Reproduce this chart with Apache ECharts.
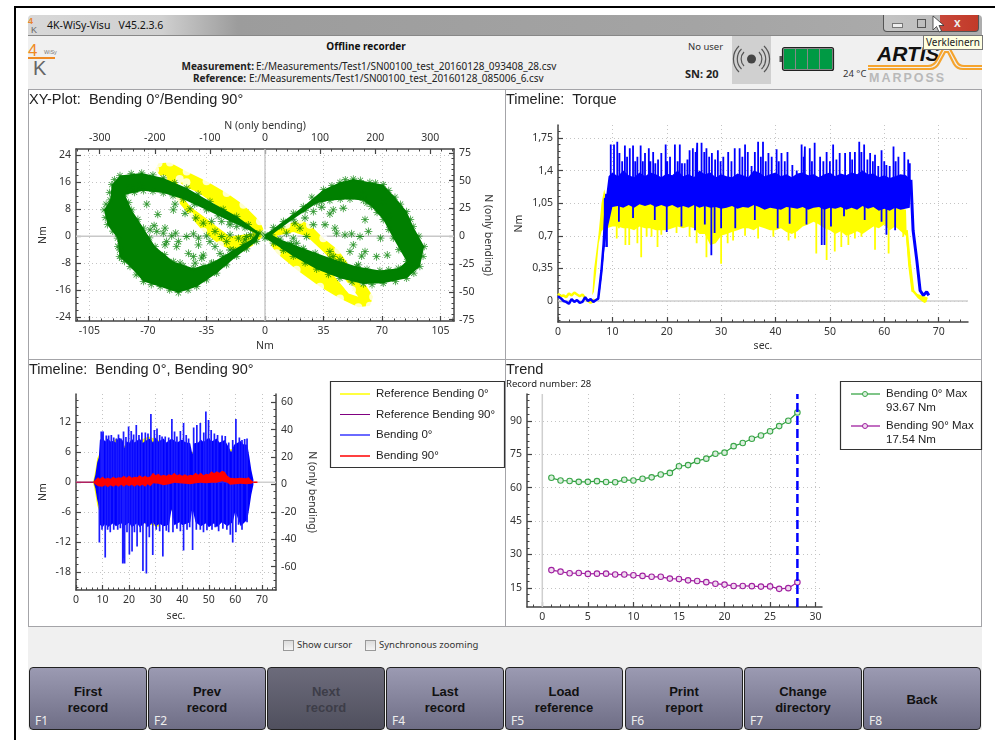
<!DOCTYPE html>
<html><head><meta charset="utf-8"><title>4K-WiSy-Visu</title>
<script src="https://cdn.jsdelivr.net/npm/echarts@6/dist/echarts.min.js"></script>
<style>
html,body{margin:0;padding:0;background:#fff;width:995px;height:740px;overflow:hidden;font-family:"Noto Sans",sans-serif;color:#222}
#chrome,#chart{position:absolute;left:0;top:0;width:995px;height:740px}
.a{position:absolute;white-space:nowrap}
.p{position:absolute;background:#fff;border:1px solid #a4a4a8;box-sizing:border-box}
.btn{position:absolute;top:667px;height:63px;width:118px;border:1px solid #222;border-radius:4px;box-sizing:border-box;background:linear-gradient(#9b9ab2,#6f6e86);font:bold 13px "Liberation Sans",sans-serif;color:#111;text-align:center;line-height:16px}
.btn.off{background:linear-gradient(#6c6b7b,#50505e);color:#3d3d48}
.btn span{position:absolute;left:0;right:0}
.btn i{position:absolute;left:5px;bottom:2px;font:normal 12px "Noto Sans",sans-serif;color:#eee;line-height:13px}
.cb{position:absolute;top:640px;width:9px;height:9px;border:1px solid #999;background:linear-gradient(#ddd,#f4f4f4)}
</style></head><body>
<div id="chrome">
 <div class="a" style="left:14px;top:6px;width:981px;height:2px;background:#000"></div>
 <div class="a" style="left:14px;top:6px;width:2px;height:734px;background:#000"></div>
 <div class="a" style="left:28px;top:15px;width:954px;height:20px;background:linear-gradient(90deg,#d8d8d8,#d0d0d0 14%,#9c9c9c 22%,#a4a4a4 70%,#adadad);border-radius:4px 4px 0 0"></div>
 <div class="a" style="left:28px;top:35px;width:954px;height:695px;background:#f0f0f0;border-top:1px solid #888;box-sizing:border-box"></div>
 <div class="a" style="left:47px;top:18px;font-size:10.5px;line-height:15px;color:#111">4K-WiSy-Visu&nbsp;&nbsp; V45.2.3.6</div>
 <div class="a" style="left:28px;top:16px;font:bold 9px 'Liberation Sans';color:#e8842c;line-height:10px">4</div>
 <div class="a" style="left:31px;top:25px;font:9px 'Liberation Sans';color:#666;line-height:10px">K</div>
 <div class="a" style="left:28px;top:42px;font:17px 'Liberation Sans';color:#ef8a24;line-height:18px">4</div>
 <div class="a" style="left:28px;top:57px;width:27px;height:1.5px;background:#ef8a24"></div>
 <div class="a" style="left:33px;top:58px;font:20px 'Liberation Sans';color:#666;line-height:20px">K</div>
 <div class="a" style="left:44px;top:49px;font:5.5px 'Liberation Sans';color:#777;line-height:6px">WiSy</div>
 <div class="a" style="left:266px;width:200px;top:39px;text-align:center;font-weight:bold;font-size:10px;line-height:14px;color:#111">Offline recorder</div>
 <div class="a" style="right:741px;top:59px;font-weight:bold;font-size:10px;line-height:14px;color:#222">Measurement:</div>
 <div class="a" style="left:256px;top:59px;font-size:10px;line-height:14px;color:#222">E:/Measurements/Test1/SN00100_test_20160128_093408_28.csv</div>
 <div class="a" style="right:749px;top:71px;font-weight:bold;font-size:10px;line-height:14px;color:#222">Reference:</div>
 <div class="a" style="left:249px;top:71px;font-size:10px;line-height:14px;color:#222">E:/Measurements/Test1/SN00100_test_20160128_085006_6.csv</div>
 <div class="a" style="left:688px;top:40px;font-size:9.5px;line-height:14px;color:#333">No user</div>
 <div class="a" style="left:685px;top:67px;font-weight:bold;font-size:11px;line-height:14px;color:#222">SN: 20</div>
 <div class="a" style="left:843px;top:67px;font-size:9.5px;line-height:14px;color:#333">24 °C</div>
 <div class="a" style="left:732px;top:36px;width:39px;height:48px;background:#d0d0d0"></div>
 <svg class="a" style="left:732px;top:36px" width="39" height="48" viewBox="0 0 39 48"><circle cx="19.5" cy="23" r="4.5" fill="#444"/><g fill="none" stroke="#555" stroke-width="1.2"><path d="M12 16a10 10 0 0 0 0 14M27 16a10 10 0 0 1 0 14M9.5 13a14 14 0 0 0 0 20M29.5 13a14 14 0 0 1 0 20M7 10a18 18 0 0 0 0 26M32 10a18 18 0 0 1 0 26"/></g></svg>
 <svg class="a" style="left:779px;top:46px" width="56" height="26" viewBox="0 0 56 26"><rect x="0.5" y="10" width="3" height="6" fill="#555"/><rect x="3.5" y="1.5" width="51" height="23" rx="2" fill="#888" stroke="#222" stroke-width="1.2"/><g fill="#009a44"><rect x="5" y="3" width="11" height="20"/><rect x="17" y="3" width="11" height="20"/><rect x="29" y="3" width="11" height="20"/><rect x="41" y="3" width="12" height="20"/></g></svg>
 <div class="a" style="left:877px;top:42px;font:italic bold 21px 'Liberation Sans';line-height:24px;color:#111">ARTIS</div>
 <svg class="a" style="left:866px;top:46px" width="116" height="26" viewBox="0 0 116 26"><g fill="none" stroke="#f5a42e" stroke-width="2.2"><path d="M2 20H62Q68 20 71 14L77 3H84L91 16Q93 20 98 20H116"/><path d="M2 23H64Q70 23 73 17L79 6H82L88 18Q91 23 97 23H116"/></g></svg>
 <div class="a" style="left:869px;top:71px;font:bold 12.5px 'Liberation Sans';line-height:14px;color:#b9b9b9;letter-spacing:2px">MARPOSS</div>
 <div class="a" style="left:883px;top:15px;width:96px;height:17px;border:1px solid #555;border-top:0;border-radius:0 0 4px 4px;box-sizing:border-box;background:linear-gradient(90deg,#c4c4c4 0,#bcbcbc 60%,#c8473a 60%,#c23a28)"></div>
 <div class="a" style="left:892px;top:23px;width:9px;height:3px;background:#eee;border:1px solid #777"></div>
 <div class="a" style="left:917px;top:19px;width:7px;height:7px;border:1.5px solid #555"></div>
 <div class="a" style="left:954px;top:15px;font:bold 12px 'Liberation Sans';color:#eee;line-height:17px">x</div>
 <div class="a" style="left:923px;top:35px;height:13px;padding:0 2px;background:#ffffe1;border:1px solid #777;font-size:10px;line-height:13px;color:#222">Verkleinern</div>
 <svg class="a" style="left:932px;top:15px" width="14" height="20" viewBox="0 0 14 20"><path d="M1 1V15L4.5 11.5L7 17L9.5 16L7 10.5H12Z" fill="#fff" stroke="#333" stroke-width=".8"/></svg>
 <div class="p" style="left:28px;top:89px;width:478px;height:271px"></div>
 <div class="p" style="left:505px;top:89px;width:477px;height:271px"></div>
 <div class="p" style="left:28px;top:359px;width:478px;height:268px"></div>
 <div class="p" style="left:505px;top:359px;width:477px;height:268px"></div>
 <div class="cb" style="left:283px"></div>
 <div class="a" style="left:297px;top:638px;font-size:9.5px;line-height:14px;color:#333">Show cursor</div>
 <div class="cb" style="left:365px"></div>
 <div class="a" style="left:379px;top:638px;font-size:9.5px;line-height:14px;color:#333">Synchronous zooming</div>
 <div class="btn" style="left:29px"><span style="top:16px">First<br>record</span><i>F1</i></div>
 <div class="btn" style="left:148px"><span style="top:16px">Prev<br>record</span><i>F2</i></div>
 <div class="btn off" style="left:267px"><span style="top:16px">Next<br>record</span></div>
 <div class="btn" style="left:386px"><span style="top:16px">Last<br>record</span><i>F4</i></div>
 <div class="btn" style="left:505px"><span style="top:16px">Load<br>reference</span><i>F5</i></div>
 <div class="btn" style="left:625px"><span style="top:16px">Print<br>report</span><i>F6</i></div>
 <div class="btn" style="left:744px"><span style="top:16px">Change<br>directory</span><i>F7</i></div>
 <div class="btn" style="left:863px"><span style="top:24px">Back</span><i>F8</i></div>
</div>
<div id="chart"></div>
<script>
// ---------- XY plot (Nm, Nm) ----------
const greenRightOuter=[[0,0.4],[11,4.4],[22.9,8.8],[34.9,13.8],[44.8,16],[52.8,17],[62.7,16],[70.7,15.3],[77.7,11.6],[84.7,7.3],[88.6,2.9],[95.2,-3.1],[92.6,-9],[84.7,-12.5],[70.7,-14],[58.8,-14.2],[44.8,-12.5],[30.9,-9.8],[16.9,-6],[5,-2.1],[0,-0.6]];
const greenRightInner=[[4,0.4],[16.9,5.1],[30.9,9.8],[38.8,10.6],[50.8,11],[58.8,10.6],[63.7,8.8],[70.7,4.9],[76.7,-0.6],[84.7,-7.5],[79.7,-9.5],[68.7,-10.2],[54.8,-9],[38.8,-6.5],[22.9,-3.6],[9,-0.9]];
const greenLeftOuter=[[-3,0.9],[-16.9,5.9],[-32.9,10.3],[-46.8,14.3],[-60.8,17.3],[-73.7,18.8],[-86.7,18],[-91.6,15.3],[-92.6,10.8],[-96.2,7.8],[-94.2,3.4],[-88.2,-0.6],[-87,-6],[-80.7,-9],[-72.7,-13.5],[-62.7,-15],[-51.8,-16.8],[-40.8,-15],[-28.9,-11],[-16.9,-6],[-5,-1.6]];
const greenLeftInner=[[-5,0.7],[-20.9,4.4],[-34.9,7.8],[-48.8,11],[-60.8,12.8],[-72.7,13.5],[-83.7,12.3],[-79.7,7.8],[-72.7,2.4],[-65.7,-3.1],[-54.8,-7.5],[-42.8,-9.5],[-31.9,-8],[-18.9,-4.1],[-7,-0.6]];
const greenEdgeExtra=[[5,2.6],[17,6.8],[28,11.6],[40,15],[48,16.8],[57,16.6],[66,15.8],[74,13.6],[81,9.5],[87,5],[92,0],[94.5,-6],[89,-11],[78,-13.5],[64,-14.4],[52,-13.6],[38,-11.4],[24,-8],[11,-4.2],
[10,2.8],[24,7.6],[34,10.3],[45,11],[61,9.8],[67,7],[74,2],[80,-4],[74,-10],[61,-9.8],[47,-8],[30,-5],[15,-2.2],
[-10,3.4],[-25,8],[-40,12.5],[-54,15.9],[-67,18.2],[-80,18.6],[-90,16.8],[-93,13],[-95,9.5],[-95.5,5.5],[-91,1.5],[-88,-3],[-84,-7.5],[-77,-11.5],[-68,-14.4],[-57,-16],[-46,-16],[-35,-13],[-23,-8.5],[-11,-3.8],
[-12,2.5],[-28,6],[-42,9.5],[-55,12],[-67,13.3],[-78,13],[-81.5,10],[-76,5],[-69,-0.5],[-60,-5.5],[-49,-8.8],[-37,-9],[-25,-6],[-13,-2.4]];
const yellowLeftOuter=[[0,0.9],[-3,4.4],[-12.9,9.3],[-22.9,12.8],[-34.9,16.3],[-46.8,19.2],[-56.8,21.9],[-63.7,21.7],[-65.7,19.7],[-60.8,17],[-52.8,10.8],[-44.8,5.9],[-36.9,1.4],[-26.9,-2.6],[-14.9,-5.1],[-5,-2.1]];
const yellowLeftInner=[[-7,0.9],[-20,6],[-40,13],[-47,14.5],[-53,16.6],[-50,12],[-44.8,8.8],[-36.9,5.9],[-28.9,2.9],[-20.9,-0.1]];
const yellowRightOuter=[[2,0.4],[12.9,3.4],[20.9,4.9],[26.9,3.4],[34.9,-0.6],[43.8,-4.1],[50.8,-9],[58.8,-13.5],[64.7,-18],[62.7,-20.7],[55.8,-21.1],[44.8,-18.5],[32.9,-15],[18.9,-10],[7,-5.1],[2,-1.6]];
const yellowRightInner=[[7,0.1],[17,1.2],[24.9,0],[34.9,-4.6],[43,-9],[48.8,-13.5],[55.8,-18],[50,-17],[40,-11],[20.9,-6],[11,-3]];
const greenInnerStars=[[-70.7,9.5],[-64.1,6.5],[-80.7,14.6],[-74.7,15],[-53.8,9.5],[-54.8,7.8],[-44.8,8.1],[-47.8,6.8],[-41.4,5.4],[-68.7,1.9],[-66.3,3.1],[-59.8,2.4],[-60.8,0.9],[-64.7,1.4],[-53.4,0.9],[-55.8,0.1],[-51.8,-1.6],[-46.8,-0.1],[-42.8,0.7],[-39.8,-0.6],[-34.9,0.1],[-36.9,3.9],[-31.9,4.4],[-25.9,4.4],[-20.9,3.4],[-16.9,2.9],[-29.9,1.4],[-25.9,-0.1],[-20.9,0.4],[-15.9,-0.6],[-11,-0.1],[-8.6,0.4],[-58.8,-1.6],[-59.8,-2.6],[-39.8,-2.6],[-36.9,-5.6],[-37.8,-6.5],[-45.8,-5.1],[-42.8,-6.1],[-50.8,-8],[-41.8,-8],[-30.9,-8],[-20.9,-4.1],[-29.9,-3.1],[-86.7,-4.1],[-85.7,-6.5],[-52.8,-3.1],[-12,-1.1],[-32.9,-1.6],[-22.9,-1.6],[-26.9,-5.1],
[28.9,7.3],[33.9,8.6],[40.8,7.8],[46.8,8.3],[38.8,6.6],[23.9,5.4],[28.9,3.4],[35.9,3.4],[17.9,3.9],[20.9,2.4],[41.8,2.4],[42.8,0.9],[47.8,0.4],[51.8,0.7],[56.8,-0.1],[69.1,-0.6],[59.8,4.9],[61.8,1.4],[12.9,0.9],[16.9,-0.6],[15.9,-2.6],[18.9,-2.1],[24.9,-0.1],[38.8,-4.6],[40.8,-6.1],[44.8,-7],[50.8,-4.6],[52.8,-2.6],[59.8,-4.6],[57.8,-5.9],[73.1,-5.6],[66.7,-6.1],[55.8,-8.5],[74.7,5.9],[86.3,-8],[11,-3.1],[8,-1.6],[70.7,10.3],[58.8,12.3]];
const yellowInnerRings=[[-51,17],[-47,16],[-27,4],[-21,4],[-17,3],[17,0],[14,-2],[18,-3],[25,-4],[28,-5],[50,-15],[52,-16]];
const xyBottomTicks=[-105,-70,-35,0,35,70,105], xyTopTicks=[-300,-200,-100,0,100,200,300], xyLeftTicks=[-24,-16,-8,0,8,16,24], xyRightTicks=[-75,-50,-25,0,25,50,75];

// ---------- Torque timeline (sec, Nm) ----------
const refTorqueIdle=[[0,0.08],[0.5,0.05],[1,0.06],[1.5,0.04],[2,0.08],[2.5,0.06],[3,0.09],[3.5,0.07],[4,0.05],[4.5,0.07],[5,0.03],[5.5,0],[6,-0.02],[6.5,0],[6.7,0.02]];
const refTorqueTop=[[6.3,0.06],[6.6,0.33],[7.4,0.69],[8,1.05],[8.5,1.2],[9,1.05],[12,1.05],[20,1.05],[30,1.05],[40,1.05],[50,1.05],[60,1.04],[64,0.98]];
const refTorqueTail=[[64.1,0.76],[64.7,0.4],[65.3,0.11],[66.3,0.04],[67.5,-0.01],[67.8,0.04]];
const refTorqueBottom=[[65,0.1],[64.4,0.38],[64,0.7],[62,0.8],[61,0.76],[60,0.82],[59,0.78],[58,0.8],[57,0.76],[56,0.72],[55,0.75],[54,0.72],[53,0.7],[52,0.75],[51,0.72],[50,0.76],[49,0.78],[48,0.82],[47,0.85],[46,0.82],[45,0.8],[44,0.75],[43,0.72],[42,0.74],[41,0.78],[40,0.76],[39,0.76],[38,0.78],[37,0.8],[36,0.76],[35,0.78],[34,0.78],[33,0.76],[32,0.74],[31,0.72],[30,0.7],[29,0.62],[28,0.6],[27,0.72],[26,0.72],[25,0.78],[24,0.8],[23,0.78],[22,0.8],[21,0.78],[20,0.76],[19,0.76],[18,0.76],[17,0.78],[16,0.78],[15,0.8],[14,0.76],[13,0.78],[12,0.78],[11,0.8],[10,0.8],[9,0.78],[8.5,0.78],[8,0.75],[7.5,0.62],[7,0.3],[6.6,0.1]];
const refTorqueDips=[[10.8,0.67],[11.2,0.78],[12.4,0.6],[13.1,0.6],[14.6,0.62],[15.3,0.47],[16.3,0.69],[17.2,0.69],[18.3,0.58],[19,0.71],[21.8,0.73],[24.2,0.69],[25.5,0.62],[27.3,0.47],[30,0.4],[31.2,0.62],[32.2,0.65],[34.4,0.7],[36.8,0.67],[39.6,0.69],[42.4,0.65],[43.6,0.67],[47.5,0.51],[49.4,0.44],[50.9,0.53],[52.1,0.58],[53.4,0.6],[54.6,0.67],[55.8,0.69],[58.3,0.55],[60.8,0.51],[63.5,0.69]];
const curTorqueIdle=[[0,0.05],[0.5,0.03],[1,0],[1.5,-0.01],[2,-0.03],[2.5,0.02],[3,-0.01],[3.5,0.01],[4,-0.02],[4.5,-0.01],[5,0.04],[5.5,0],[6,0.02],[6.5,-0.01],[7,0.01],[7.4,0.025],[8,0.33],[8.4,0.62],[8.9,1.15]];
const curTorqueTop=[[7.6,0.05],[8,0.33],[8.4,0.62],[8.9,1.15],[9.3,1.34],[10,1.38],[11,1.34],[12,1.4],[13,1.35],[14,1.33],[15,1.38],[16,1.34],[17,1.38],[18,1.36],[19,1.33],[20,1.37],[21,1.35],[22,1.4],[23,1.34],[24,1.36],[25,1.33],[26,1.4],[27,1.36],[28,1.38],[29,1.33],[30,1.36],[31,1.34],[32,1.33],[33,1.37],[34,1.35],[35,1.33],[36,1.4],[37,1.38],[38,1.34],[39,1.36],[40,1.38],[41,1.34],[42,1.36],[43,1.33],[44,1.37],[45,1.38],[46,1.35],[47,1.36],[48,1.33],[49,1.36],[50,1.38],[51,1.34],[52,1.37],[53,1.35],[54,1.38],[55,1.36],[56,1.4],[57,1.36],[58,1.37],[59,1.33],[60,1.35],[61,1.32],[62,1.34],[63,1.36],[64,1.35],[64.9,1.3]];
const curTorqueTail=[[65.3,0.76],[66,0.43],[66.6,0.11],[67.2,0.06],[67.8,0.1],[68.2,0.06]];
const curTorqueBottom=[[64.7,1],[63,0.98],[62,1],[61,0.97],[60,0.99],[59,0.97],[58,1.01],[57,0.99],[56,1.02],[55,0.98],[54,1],[53,0.98],[52,1.01],[51,0.99],[50,1],[49,0.98],[48,1.01],[47,1],[46,0.98],[45,1.01],[44,0.99],[43,1],[42,1.01],[41,0.98],[40,0.99],[39,1],[38,0.98],[37,1.01],[36,1.03],[35,1],[34,1.01],[33,0.99],[32,1.02],[31,1],[30,0.99],[29,1.01],[28,1],[27,1.02],[26,1],[25,1.03],[24,1],[23,1.02],[22,1],[21,1.03],[20,1.01],[19,1.03],[18,1.01],[17,1.04],[16,1.02],[15,1.04],[14,1],[13,1.03],[12,1],[11,1.02],[10,1.01],[9.2,0.8],[8.6,0.6],[8,0.25]];
const curTorquePeaks=[[9.7,1.68],[10.3,1.68],[10.9,1.71],[11.3,1.59],[11.8,1.5],[12.3,1.67],[12.7,1.55],[13.2,1.64],[13.8,1.67],[14.2,1.5],[14.6,1.55],[15.2,1.67],[15.6,1.5],[16,1.59],[16.7,1.64],[17,1.5],[17.5,1.6],[17.9,1.48],[18.4,1.52],[19,1.59],[19.8,1.68],[20.1,1.5],[20.6,1.55],[21.5,1.68],[22,1.5],[22.4,1.68],[22.8,1.48],[23.3,1.48],[23.8,1.52],[24.2,1.62],[24.8,1.64],[25.3,1.6],[25.6,1.7],[26.4,1.7],[26.9,1.6],[27.3,1.64],[27.8,1.55],[28.3,1.59],[28.9,1.52],[29.4,1.62],[29.9,1.5],[30.4,1.55],[31.3,1.6],[31.9,1.5],[32.5,1.64],[33.4,1.64],[33.9,1.55],[34.4,1.68],[34.9,1.6],[35.6,1.45],[36.2,1.6],[36.8,1.71],[37.3,1.55],[37.7,1.71],[38.2,1.5],[38.7,1.59],[39.3,1.55],[40.2,1.63],[40.6,1.5],[41.1,1.59],[41.7,1.5],[42.2,1.6],[43.1,1.46],[43.9,1.4],[44.8,1.68],[45.2,1.55],[45.4,1.66],[46.3,1.64],[46.7,1.5],[47.2,1.7],[48.2,1.55],[48.8,1.5],[49.4,1.6],[50,1.5],[50.6,1.68],[51.2,1.52],[51.8,1.59],[52.8,1.59],[53.7,1.6],[54.1,1.52],[54.6,1.6],[55.4,1.71],[55.8,1.6],[56.3,1.68],[56.9,1.52],[57.4,1.59],[57.9,1.5],[58.3,1.57],[58.9,1.45],[59.5,1.62],[60,1.5],[60.4,1.46],[61,1.45],[61.7,1.66],[62.1,1.5],[62.6,1.55],[63.7,1.6],[64.4,1.52],[64.7,1.48]];
const curTorqueDips=[[8.6,0.58],[9,0.58],[11.2,0.85],[13.8,0.89],[17.8,0.87],[20,0.74],[22.7,0.8],[25.2,0.76],[27,0.82],[28.2,0.49],[28.8,0.73],[30,0.78],[32.6,0.78],[36.2,0.87],[40.4,0.78],[42.6,0.83],[45.7,0.82],[48.5,0.6],[49,0.6],[50.2,0.8],[52.6,0.91],[56.4,0.87],[59.5,0.85],[60.4,0.71],[62,0.76]];
const torqueXTicks=[0,10,20,30,40,50,60,70], torqueYTicks=[0,0.35,0.7,1.05,1.4,1.75];

// ---------- Bending timeline (sec, Nm) ----------
const refBendTop=[[6.4,0],[7,1.5],[7.5,3],[8,4.8],[8.6,5.4],[9,6.5],[15.2,8.8],[18.6,7.2],[27.4,9.2],[43.7,6],[58,6.6],[64,7],[66,0]];
const refBendBottom=[[66,0],[64,-6],[60.6,-5.8],[43.7,-5.6],[36,-5.6],[31,-8.9],[9,-6],[8.6,-5.6],[8,-4.6],[7.5,-3],[7,-1.5],[6.4,0]];
const curBendTop=[[6.6,0],[7.3,1.5],[8,4],[8.6,5],[9,8.5],[10,9],[11,8.2],[12,8.8],[13,8.2],[14,8.3],[15,8],[16,9],[17.5,8.5],[18.4,6.8],[19,8.3],[20,7.8],[21,8.8],[22,8],[24,8.8],[25,7.9],[27,8.6],[28,8.8],[29,8],[30,9],[31,8.2],[33,8.8],[34,8],[36,8.8],[38,8],[40,8.6],[41,8.1],[43,7.8],[43.8,5.6],[44.5,7.8],[46,8],[47,8.6],[48,8.1],[50,9],[51,8.2],[53,8.8],[54,8],[56,8.5],[57.5,7],[58.4,6],[59.5,7.5],[61,8],[62,8.3],[63,7.6],[64.5,7.5],[65.3,5],[66,2.5],[66.8,0.5]];
const curBendBottom=[[66.8,-0.5],[66,-2.5],[65.3,-5],[64.5,-7.5],[62,-8.8],[60.8,-7],[60,-5.8],[59,-8],[57,-8.8],[55,-8],[53,-9],[52,-8.2],[50,-9],[49,-8.2],[47,-8.8],[45,-8],[43.8,-5.2],[43,-8],[40,-8.6],[39,-8],[37,-8.6],[36,-5.4],[35,-8.5],[33,-8.8],[31.5,-8.3],[30,-8.8],[29,-8],[27,-9],[26,-8.1],[24,-9],[23,-8.2],[21,-9],[20,-8.1],[18,-8.8],[17,-8.2],[15,-8.8],[14,-8.2],[12,-9],[11,-8.3],[10,-9],[9,-8.5],[8.6,-4.8],[8,-3.5],[7.3,-1.2],[6.6,0]];
const curBendUp=[[9.5,10.2],[10.2,10.2],[11.4,9.4],[12.3,9.4],[13.3,9.5],[14.2,9],[15.2,8.8],[16,9.6],[16.9,8.8],[17.9,10.2],[18.8,9.1],[19.8,11.2],[20.8,10.3],[21.7,9.6],[22.7,11.5],[23.7,9.5],[24.8,10],[26.1,10],[27.1,9.8],[28.2,13.7],[29.5,10.5],[30.5,10.8],[31.5,9.5],[32.4,9.2],[33.6,9.2],[34.9,9],[36.1,12.7],[37.1,10.2],[38,9.2],[39.3,10.3],[40.5,11.9],[41.5,9.5],[42.4,8.8],[44.3,11],[45.5,11.5],[46.8,11.9],[48.1,10],[48.9,14.2],[49.9,12.5],[50.9,10.5],[52.1,9.8],[53.3,9.5],[55,9.4],[56.2,9.3],[57.5,8],[59,8.5],[60.2,12.7],[61.5,9],[62.5,8.5],[63.5,8.7],[64.4,8.8]];
const curBendDown=[[8.8,-12.1],[9.8,-9.5],[11,-15.1],[11.9,-9.5],[12.9,-10],[14.2,-9.5],[15.7,-9.5],[16.7,-9.2],[17.6,-16.3],[18.3,-16.3],[19.2,-10],[20.1,-14.5],[21.1,-13.9],[22,-10],[23,-12.9],[24.2,-10],[25.2,-17.8],[26.5,-18.3],[27.6,-11],[28.9,-14.6],[30.2,-9.5],[31.5,-9.8],[32.7,-14.9],[34,-9.7],[34.9,-10],[36.5,-10],[38,-9.3],[39.3,-9.8],[40.5,-13.7],[41.8,-9.5],[42.8,-9],[43.9,-13.6],[45.3,-9.5],[46.8,-9.5],[48,-10],[49.3,-9.6],[51.2,-9.5],[52.4,-9],[53.7,-9.8],[55.3,-9.3],[56.8,-9.5],[58.1,-10.5],[59,-12.1],[60.2,-10],[61.2,-8.5],[62.5,-9.5],[64.4,-8]];
const bend90Top=[[6.5,0.1],[7.5,0.6],[8.3,1],[9,0.7],[10,1.1],[11,0.7],[12,0.9],[13,0.7],[14,1.1],[15,0.8],[16,1],[17,0.9],[18,1.3],[19,0.9],[20,1.3],[21,0.9],[22,1.1],[23,1],[24,1.4],[25,1],[26,1.3],[27,1],[28,1.2],[29,1.9],[30,1.4],[31,1.7],[32,1.3],[33,1.5],[34,1.3],[35,1.6],[36,1.4],[37,1.9],[38,1.4],[39,1.6],[40,1.3],[41,1.6],[42,1.3],[43,1.5],[44,1.4],[45,1.9],[46,1.5],[47,1.9],[48,1.4],[49,1.7],[50,1.6],[51,2.2],[52,1.8],[53,2.2],[54,1.9],[55,2.3],[56,2.1],[57,1.3],[58,0.9],[60,0.8],[62,0.9],[64,0.8],[65,1],[66,0.4],[67,0.05]];
const bend90Bottom=[[67,-0.05],[66,-0.3],[64,-0.4],[62,-0.3],[60,-0.4],[58,-0.5],[57,-0.1],[55,0.2],[53,-0.1],[51,-0.1],[49,-0.2],[47,-0.1],[45,-0.2],[43,-0.4],[41,-0.3],[39,-0.2],[37,-0.1],[35,-0.4],[33,-0.6],[31,-0.3],[29,-0.2],[28,-0.8],[27,-0.4],[26,-0.9],[25,-0.5],[24,-0.8],[23,-0.5],[22,-0.9],[21,-0.5],[20,-0.8],[19,-0.5],[18,-0.9],[17,-0.5],[16,-0.9],[15,-0.6],[14,-0.9],[13,-0.6],[12,-1],[11,-0.6],[10,-0.9],[8.3,-0.8],[7.5,-0.5],[6.5,-0.1]];
const bend90IdleStart=[[0,0],[6.5,0]], bend90IdleEnd=[[67,0],[68.3,0]];
const bendXTicks=[0,10,20,30,40,50,60,70], bendYTicks=[-18,-12,-6,0,6,12], bendRightTicks=[-60,-40,-20,0,20,40,60];

// ---------- Trend ----------
const trendRecords=[1,2,3,4,5,6,7,8,9,10,11,12,13,14,15,16,17,18,19,20,21,22,23,24,25,26,27,28];
const trendBending0=[64.4,63.2,63,62.6,62.6,62.9,62.5,62.4,63.5,63.2,64,64.6,65.9,66.6,69.6,70.1,72,73,75.2,75.7,78.6,80,81.9,83.4,85.3,87.6,90,93.67];
const trendBending90=[23,22.3,21.6,21.7,21.3,21.4,21.4,21,21,20.7,20.4,20,20,19.2,19,18.4,18.1,17.6,16.9,16.5,15.9,15.9,15.8,15.6,15.7,14.6,14.9,17.54];
const trendXTicks=[0,5,10,15,20,25,30], trendYTicks=[15,30,45,60,75,90], currentRecord=28;

// ---------- rendering ----------
const FONT='"Noto Sans",sans-serif', AX='#444', TXT='#333';
const GRIDS=[{left:76,top:149,width:378,height:172},{left:558,top:125,width:410,height:197},{left:76,top:394,width:200,height:196},{left:527,top:394,width:295,height:213}];
const steps=(min,max,s)=>{const o=[];for(let v=Math.ceil(min/s);v*s<=max;v++)o.push(+(v*s).toFixed(3));return o;};
const grid=GRIDS.concat(GRIDS);
const dotted={show:true,lineStyle:{color:'#c4c4c4',type:[1,3],width:1}};
function major(gi,pos,min,max,ticks,extra){
  return Object.assign({type:'value',gridIndex:gi,position:pos,min,max,
    axisLine:{show:true,onZero:false,lineStyle:{color:AX,width:1.5}},
    axisTick:{show:true,inside:true,length:5,customValues:ticks,lineStyle:{color:AX,width:1.2}},
    axisLabel:{show:true,customValues:ticks,color:TXT,fontSize:10.5,fontFamily:FONT,margin:5,hideOverlap:false,showMinLabel:true,showMaxLabel:true},
    splitLine:{show:false},nameTextStyle:{color:TXT,fontSize:10.5,fontFamily:FONT},nameLocation:'middle'},extra||{});
}
function minor(gi,pos,min,max,s){
  return {type:'value',gridIndex:gi,position:pos,min,max,axisLine:{show:false,onZero:false},axisLabel:{show:false},splitLine:{show:false},
    axisTick:{show:true,inside:true,length:2.5,customValues:steps(min,max,s),lineStyle:{color:AX,width:1}}};
}
const comma=v=>String(v).replace('.',',');
const xAxis=[
 major(0,'bottom',-113,113,xyBottomTicks,{name:'Nm',nameGap:20,splitLine:dotted}),
 major(0,'top',-343,343,xyTopTicks,{name:'N (only bending)',nameGap:17}),
 major(1,'bottom',0,75.4,torqueXTicks,{name:'sec.',nameGap:19,splitLine:dotted}),
 major(2,'bottom',0,75.3,bendXTicks,{name:'sec.',nameGap:21,splitLine:dotted}),
 major(3,'bottom',-1.68,30.7,trendXTicks,{splitLine:dotted}),
 minor(4,'bottom',-113,113,7),minor(4,'top',-343,343,20),minor(5,'bottom',0,75.4,2),minor(6,'bottom',0,75.3,2),minor(7,'bottom',-1.68,30.7,1)
];
const yAxis=[
 major(0,'left',-25.2,25.9,xyLeftTicks,{name:'Nm',nameGap:27,splitLine:dotted}),
 major(0,'right',-76.3,78.4,xyRightTicks,{name:'N (only bending)',nameGap:28,nameRotate:-90}),
 major(1,'left',-0.226,1.89,torqueYTicks,{name:'Nm',nameGap:33,splitLine:dotted}),
 major(2,'left',-21.6,17.7,bendYTicks,{name:'Nm',nameGap:27,splitLine:dotted}),
 major(2,'right',-77,66,bendRightTicks,{name:'N (only bending)',nameGap:30,nameRotate:-90}),
 major(3,'left',6.45,102,trendYTicks,{splitLine:dotted}),
 minor(4,'left',-25.2,25.9,2),minor(4,'right',-76.3,78.4,5),minor(5,'left',-0.226,1.89,0.07),minor(6,'left',-21.6,17.7,1.5),minor(6,'right',-77,66,5),minor(7,'left',6.45,102,3)
];
yAxis[2].axisLabel.formatter=comma;

function poly(name,pts,color,xi,yi,z){
  return {type:'custom',name,xAxisIndex:xi,yAxisIndex:yi,z,silent:true,data:pts,encode:{x:0,y:1},clip:true,animation:false,
    renderItem(p,api){
      if(p.dataIndex!==0)return;
      return {type:'polygon',shape:{points:pts.map(q=>api.coord(q))},style:{fill:color}};
    }};
}
const ring=(o,i)=>o.concat(o.slice(0,1),i.slice(0,1),i.slice().reverse());
const STAR='path://M9 0H11V20H9ZM0 9H20V11H0ZM2.2 3.6L3.6 2.2L17.8 16.4L16.4 17.8ZM16.4 2.2L17.8 3.6L3.6 17.8L2.2 16.4Z';
function scatter(name,pts,symbol,size,style,xi,yi,z){
  return {type:'scatter',name,data:pts,symbol,symbolSize:size,itemStyle:style,xAxisIndex:xi,yAxisIndex:yi,z,silent:true,animation:false};
}
function line(name,pts,color,width,xi,yi,z,extra){
  return Object.assign({type:'line',name,data:pts,showSymbol:false,symbol:'none',lineStyle:{color,width},itemStyle:{color},xAxisIndex:xi,yAxisIndex:yi,z,silent:true,animation:false},extra||{});
}
const spikes=(pts,base)=>{const o=[];pts.forEach(p=>o.push([p[0],base],p,[p[0],base]));return o;};
const refY='#ffff00', refG='#008000', BL='#0000ff', RD='#ff0000';
const series=[
 line('axes0',[[-113,0],[113,0]],'#c8c8c8',1.5,0,0,1),
 line('axes0v',[[0,-25.2],[0,25.9]],'#c8c8c8',1.5,0,0,1),
 poly('Reference XY left',ring(yellowLeftOuter,yellowLeftInner),refY,0,0,2),
 poly('Reference XY right',ring(yellowRightOuter,yellowRightInner),refY,0,0,2),
 scatter('Reference XY points',yellowLeftOuter.concat(yellowRightOuter,yellowInnerRings),'emptyCircle',8,{color:'transparent',borderColor:refY,borderWidth:1.2},0,0,3),
 poly('Bending XY right',ring(greenRightOuter,greenRightInner),refG,0,0,4),
 poly('Bending XY left',ring(greenLeftOuter,greenLeftInner),refG,0,0,4),
 scatter('Bending XY edge',greenRightOuter.concat(greenRightInner,greenLeftOuter,greenLeftInner,greenEdgeExtra),STAR,7.5,{color:refG},0,0,5),
 scatter('Bending XY inner',greenInnerStars,STAR,8,{color:refG},0,0,5),
 line('zero torque',[[0,0],[75.4,0]],'#cfcfcf',1.5,2,2,1),
 line('Reference torque idle',refTorqueIdle,refY,2.5,2,2,2),
 poly('Reference torque',refTorqueTop.concat(refTorqueTail,refTorqueBottom),refY,2,2,2),
 line('Reference torque dips',spikes(refTorqueDips,0.9),refY,1.8,2,2,3),
 line('Reference torque tail',refTorqueTail,refY,2.5,2,2,3),
 poly('Torque',curTorqueTop.concat(curTorqueBottom),BL,2,2,4),
 line('Torque idle',curTorqueIdle,BL,2.5,2,2,5),
 line('Torque peaks',spikes(curTorquePeaks,1.2),BL,1.8,2,2,5),
 line('Torque dips',spikes(curTorqueDips,1.1),BL,1.8,2,2,5),
 line('Torque tail',[[64.9,1.3]].concat(curTorqueTail),BL,3,2,2,5),
 line('zero bend',[[0,0],[75.3,0]],'#cfcfcf',1.5,3,3,1),
 poly('Reference Bending 0°',refBendTop.concat(refBendBottom),refY,3,3,2),
 poly('Bending 0°',curBendTop.concat(curBendBottom),BL,3,3,3),
 line('Bending 0° up',spikes(curBendUp,0),'#1c1cff',1.7,3,3,4),
 line('Bending 0° down',spikes(curBendDown,0),'#1c1cff',1.7,3,3,4),
 poly('Bending 90°',bend90Top.concat(bend90Bottom),RD,3,3,5),
 line('Bending 90° start',bend90IdleStart,'#b02060',1.5,3,3,5),
 line('Bending 90° end',bend90IdleEnd,RD,1.5,3,3,5),
 line('zero trend',[[0,6.45],[0,102]],'#cfcfcf',1.5,4,5,1),
 line('Record marker',[[currentRecord,6.45],[currentRecord,102]],BL,2.5,4,5,6,{lineStyle:{color:BL,width:2.5,type:[9,4]}}),
 {type:'line',name:'Bending 0° Max',data:trendRecords.map((r,i)=>[r,trendBending0[i]]),xAxisIndex:4,yAxisIndex:5,symbol:'circle',symbolSize:5.5,showSymbol:true,silent:true,animation:false,z:5,lineStyle:{color:'#2f9e3f',width:1.2},itemStyle:{color:'#dcefdf',borderColor:'#3aa648',borderWidth:1.1}},
 {type:'line',name:'Bending 90° Max',data:trendRecords.map((r,i)=>[r,trendBending90[i]]),xAxisIndex:4,yAxisIndex:5,symbol:'circle',symbolSize:5.5,showSymbol:true,silent:true,animation:false,z:5,lineStyle:{color:'#a020a0',width:1.2},itemStyle:{color:'#f0dcf0',borderColor:'#a020a0',borderWidth:1.1}}
];
const titleStyle={fontSize:14.5,fontWeight:'normal',fontFamily:'"Liberation Sans",sans-serif',color:'#222'};
const title=[
 {text:'XY-Plot:  Bending 0°/Bending 90°',left:29,top:92,padding:0,textStyle:titleStyle},
 {text:'Timeline:  Torque',left:506,top:92,padding:0,textStyle:titleStyle},
 {text:'Timeline:  Bending 0°, Bending 90°',left:29,top:362,padding:0,textStyle:titleStyle},
 {text:'Trend',left:506,top:362,padding:0,textStyle:titleStyle},
 {text:'Record number: 28',left:506,top:379,padding:0,textStyle:{fontSize:9.5,fontWeight:'normal',fontFamily:FONT,color:'#222'}}
];
const LEG={font:'11.5px "Liberation Sans",sans-serif',fill:'#222'};
const lg=(x,y,t)=>({type:'text',left:x,top:y-6,z:50,style:Object.assign({text:t},LEG)});
const ll=(x1,x2,y,c,w)=>({type:'line',z:50,shape:{x1,y1:y,x2,y2:y},style:{stroke:c,lineWidth:w}});
const box=(x,y,w,h)=>({type:'rect',z:49,shape:{x,y,width:w,height:h},style:{fill:'#fff',stroke:'#333',lineWidth:1.2}});
const graphic=[
 box(330.5,381.5,174,86),
 ll(340,370,394,refY,1.5),lg(376,394,'Reference Bending 0°'),
 ll(340,370,414.5,'#800080',1),lg(376,414.5,'Reference Bending 90°'),
 ll(340,370,435,'#6a6aff',2),lg(376,435,'Bending 0°'),
 ll(340,370,456,RD,1.5),lg(376,456,'Bending 90°'),
 box(840.5,381.5,141,68),
 ll(851,880,394,'#3aa648',1.3),{type:'circle',z:51,shape:{cx:865,cy:394,r:2.5},style:{fill:'#dcefdf',stroke:'#3aa648'}},
 lg(886,394,'Bending 0° Max'),lg(886,408,'93.67 Nm'),
 ll(851,880,426,'#a020a0',1.3),{type:'circle',z:51,shape:{cx:865,cy:426,r:2.5},style:{fill:'#f0dcf0',stroke:'#a020a0'}},
 lg(886,426,'Bending 90° Max'),lg(886,440,'17.54 Nm')
];
const chart=echarts.init(document.getElementById('chart'),null,{renderer:'canvas',width:995,height:740});
chart.setOption({animation:false,backgroundColor:'transparent',title,grid,xAxis,yAxis,series,graphic});
</script>
</body></html>
